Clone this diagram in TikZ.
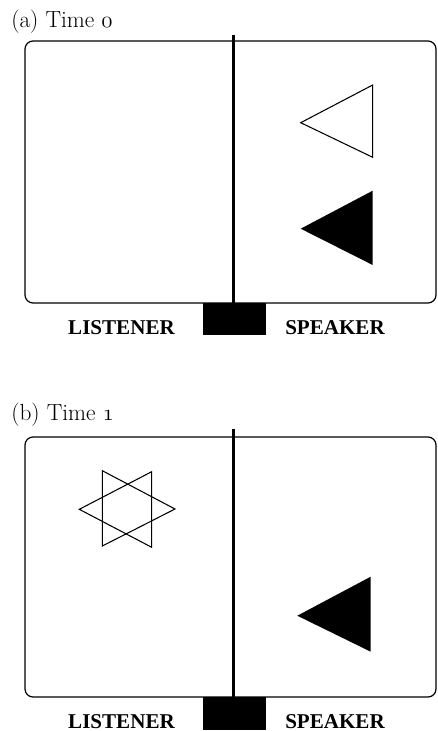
\documentclass[tikz,border=0pt]{standalone}
\usepackage{fontspec}
\newfontfamily\labelfont{Liberation Serif}

\tikzset{
  panel/.style={draw, rounded corners=6pt, line width=0.9pt},
  wall/.style={line width=2pt},
  figline/.style={line width=0.8pt, line join=miter},
  side/.style={font=\labelfont\bfseries\fontsize{15.8}{18}\selectfont, anchor=base, inner sep=0pt},
  timecap/.style={font=\fontsize{17.5}{20}\selectfont, anchor=base west, inner sep=0pt}
}

\begin{document}
\begin{tikzpicture}[x=0.75pt, y=-0.75pt]
\useasboundingbox (0,0) rectangle (437,731);

% time 0
\node [timecap] (capA) at (11,28) {(a) Time $\mathnormal{0}$};
\draw [panel] (25,41) rectangle (436,303);
\draw [wall] (233.5,35) -- (233.5,303);
\fill (203,303) rectangle (266,335);
\node [side] (lisA) at (121.5,334) {LISTENER};
\node [side] (spkA) at (335,334) {SPEAKER};
\draw [figline] (300.7,122.7) -- (372.7,85) -- (372.7,157.3) -- cycle;
\fill (300.7,228.7) -- (372.7,190.7) -- (372.7,265) -- cycle;

% time 1
\node [timecap] (capB) at (11,420) {(b) Time $\mathnormal{1}$};
\draw [panel] (25,437) rectangle (436,697);
\draw [wall] (233.5,429) -- (233.5,697);
\fill (203,697) rectangle (266,729.5);
\node [side] (lisB) at (121.5,728) {LISTENER};
\node [side] (spkB) at (335,728) {SPEAKER};
\draw [figline] (79.3,509.3) -- (151.7,471.7) -- (151.7,547.3) -- cycle;
\draw [figline] (175,509) -- (102.3,470.7) -- (102.3,546) -- cycle;
\fill (297.3,615.7) -- (370.7,576.7) -- (370.7,651.7) -- cycle;
\end{tikzpicture}
\end{document}
